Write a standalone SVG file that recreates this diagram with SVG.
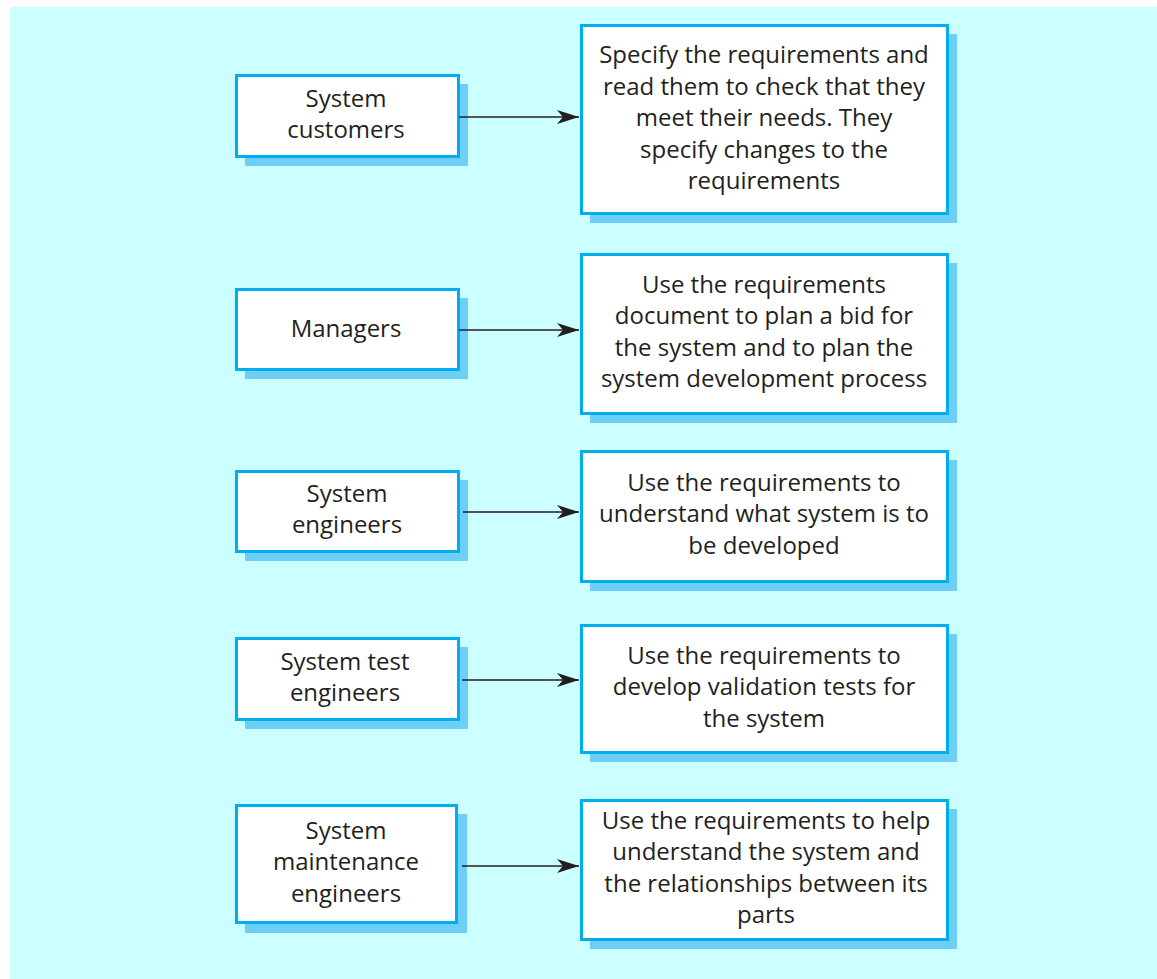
<svg xmlns="http://www.w3.org/2000/svg" width="1157" height="979" viewBox="0 0 1157 979">
<style>
.shadow{fill:#6DCFF6;stroke:none}
.box{fill:#FFFFFF;stroke:#00AEEF;stroke-width:3}
.t{font-family:"Open Sans","Noto Sans",sans-serif;font-size:24px;fill:#231F20;text-anchor:middle}
.conn{stroke:#231F20;stroke-width:1.5;fill:none}
</style>
<defs>
<marker id="ah" markerUnits="userSpaceOnUse" markerWidth="24" markerHeight="14" refX="22" refY="7" orient="auto">
<path d="M0,0 L22,7 L0,14 L6,7 Z" fill="#231F20"/>
</marker>
</defs>
<rect x="10" y="7" width="1147" height="972" fill="#CCFFFF"/>
<g id="n-customers">
<rect class="shadow" x="245" y="84" width="223" height="82"/>
<rect class="box" x="236.5" y="75.5" width="222" height="81"/>
<text class="t" x="346" y="107">System</text>
<text class="t" x="346" y="138">customers</text>
</g>
<g id="n-managers">
<rect class="shadow" x="245" y="298" width="223" height="81"/>
<rect class="box" x="236.5" y="289.5" width="222" height="80"/>
<text class="t" x="346" y="337">Managers</text>
</g>
<g id="n-sysengineers">
<rect class="shadow" x="245" y="480" width="223" height="81"/>
<rect class="box" x="236.5" y="471.5" width="222" height="80"/>
<text class="t" x="347" y="502">System</text>
<text class="t" x="347" y="533">engineers</text>
</g>
<g id="n-testengineers">
<rect class="shadow" x="245" y="647" width="223" height="82"/>
<rect class="box" x="236.5" y="638.5" width="222" height="81"/>
<text class="t" x="345" y="670">System test</text>
<text class="t" x="345" y="701">engineers</text>
</g>
<g id="n-maintengineers">
<rect class="shadow" x="245" y="814" width="222" height="119"/>
<rect class="box" x="236.5" y="805.5" width="220" height="117"/>
<text class="t" x="346" y="839">System</text>
<text class="t" x="346" y="870">maintenance</text>
<text class="t" x="346" y="902">engineers</text>
</g>
<g id="n-d1">
<rect class="shadow" x="590" y="34" width="367" height="189"/>
<rect class="box" x="581.5" y="25.5" width="366" height="188"/>
<text class="t" x="764" y="63">Specify the requirements and</text>
<text class="t" x="764" y="95">read them to check that they</text>
<text class="t" x="764" y="126">meet their needs. They</text>
<text class="t" x="764" y="158">specify changes to the</text>
<text class="t" x="764" y="189">requirements</text>
</g>
<g id="n-d2">
<rect class="shadow" x="590" y="263" width="367" height="160"/>
<rect class="box" x="581.5" y="254.5" width="366" height="159"/>
<text class="t" x="764" y="293">Use the requirements</text>
<text class="t" x="764" y="324">document to plan a bid for</text>
<text class="t" x="764" y="356">the system and to plan the</text>
<text class="t" x="764" y="387">system development process</text>
</g>
<g id="n-d3">
<rect class="shadow" x="590" y="460" width="367" height="131"/>
<rect class="box" x="581.5" y="451.5" width="366" height="130"/>
<text class="t" x="764" y="491">Use the requirements to</text>
<text class="t" x="764" y="522">understand what system is to</text>
<text class="t" x="764" y="554">be developed</text>
</g>
<g id="n-d4">
<rect class="shadow" x="590" y="634" width="367" height="128"/>
<rect class="box" x="581.5" y="625.5" width="366" height="127"/>
<text class="t" x="764" y="664">Use the requirements to</text>
<text class="t" x="764" y="695">develop validation tests for</text>
<text class="t" x="764" y="727">the system</text>
</g>
<g id="n-d5">
<rect class="shadow" x="590" y="809" width="367" height="140"/>
<rect class="box" x="581.5" y="800.5" width="366" height="139"/>
<text class="t" x="766" y="829">Use the requirements to help</text>
<text class="t" x="766" y="860">understand the system and</text>
<text class="t" x="766" y="892">the relationships between its</text>
<text class="t" x="766" y="923">parts</text>
</g>
<g id="connectors">
<line class="conn" x1="459" y1="117" x2="579" y2="117" marker-end="url(#ah)"/>
<line class="conn" x1="459" y1="330" x2="579" y2="330" marker-end="url(#ah)"/>
<line class="conn" x1="463" y1="512" x2="579" y2="512" marker-end="url(#ah)"/>
<line class="conn" x1="462" y1="680" x2="579" y2="680" marker-end="url(#ah)"/>
<line class="conn" x1="462" y1="866" x2="579" y2="866" marker-end="url(#ah)"/>
</g>
</svg>
